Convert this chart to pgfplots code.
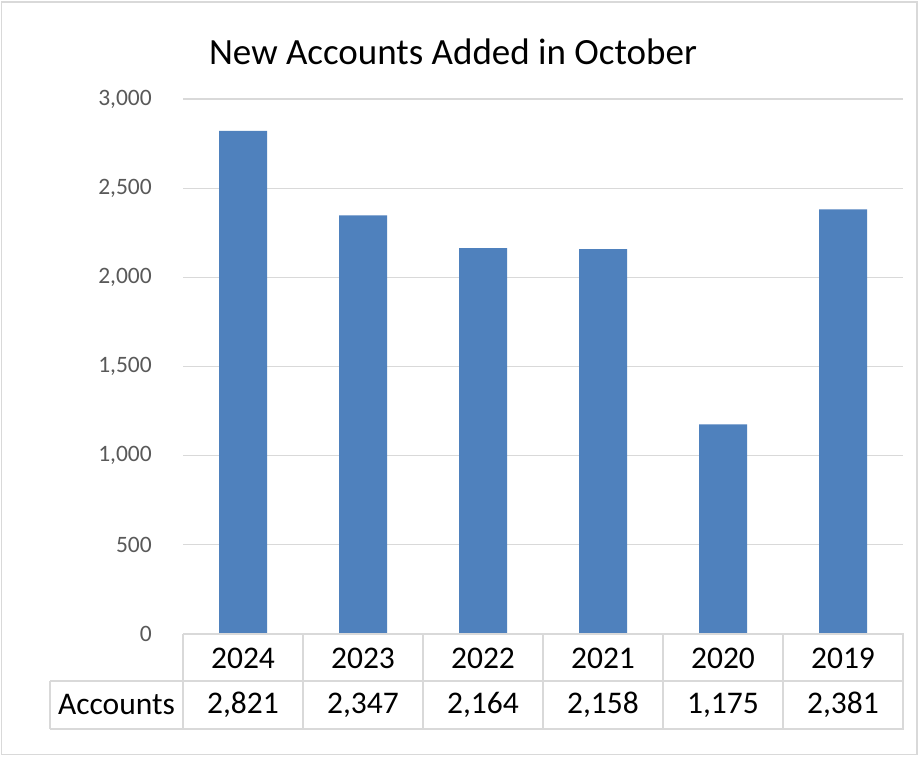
\documentclass[border=0pt]{standalone}
\usepackage{pgfplots}
\pgfplotsset{compat=1.18}
\usepackage{fontspec}
\setmainfont{Carlito}
\definecolor{barblue}{HTML}{4F81BD}
\definecolor{gridgray}{HTML}{D9D9D9}
\definecolor{tickgray}{HTML}{595959}
\definecolor{framegray}{HTML}{D9D9D9}

% pixel coordinates of the reference: (x, y from top)
\newcommand{\px}[2]{(#1pt,{756pt-#2pt})}

\begin{document}
\begin{tikzpicture}
\useasboundingbox (0,0) rectangle (919pt,756pt);
\fill[white] (0,0) rectangle (919pt,756pt);
\draw[framegray, line width=1.5pt] (1.5pt,1.5pt) rectangle (917pt,754pt);

\node[font=\fontsize{37}{44}\selectfont, anchor=center] at \px{453}{52} {New Accounts Added in October};

\begin{axis}[
    at={(183pt,122pt)}, anchor=south west,
    scale only axis,
    width=720pt, height=535pt,
    xmin=-0.5, xmax=5.5,
    ymin=0, ymax=3000,
    ytick={0,500,...,3000},
    xtick=\empty,
    axis line style={draw=none},
    major tick length=0pt,
    ymajorgrids,
    grid style={gridgray, line width=1.3pt},
    yticklabel style={font=\fontsize{23.5}{28}\selectfont, text=tickgray, anchor=east, inner sep=0pt, xshift=-31pt},
    /pgf/number format/.cd, 1000 sep={,}, assume math mode=true,
    /pgfplots/.cd,
    clip=false,
]
\addplot[ybar, bar width=0.4, fill=barblue, draw=none] coordinates {
    (0,2821) (1,2347) (2,2164) (3,2158) (4,1175) (5,2381)
};
\end{axis}

% data table
\begin{scope}[gridgray, line width=1.8pt]
\draw \px{183}{634} -- \px{904}{634};
\draw \px{50}{681} -- \px{904}{681};
\draw \px{50}{729} -- \px{904}{729};
\draw \px{50}{681} -- \px{50}{729};
\foreach \x in {183,303,423,543,663,783,903} {
    \draw \px{\x}{634} -- \px{\x}{729};
}
\end{scope}
\begin{scope}[every node/.style={font=\fontsize{31.5}{37}\selectfont, anchor=center, inner sep=0pt}]
\node at \px{116.5}{705} {Accounts};
\foreach \yr/\v [count=\i from 0] in {2024/2{,}821,2023/2{,}347,2022/2{,}164,2021/2{,}158,2020/1{,}175,2019/2{,}381} {
    \node at \px{243+120*\i}{658} {\yr};
    \node at \px{243+120*\i}{705} {\v};
}
\end{scope}
\end{tikzpicture}
\end{document}
